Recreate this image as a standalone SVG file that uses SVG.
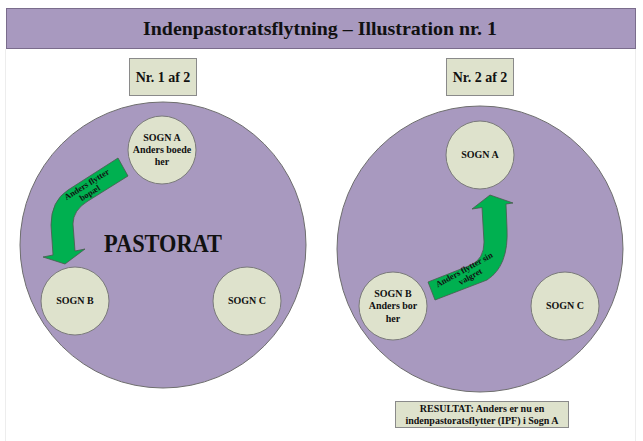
<svg xmlns="http://www.w3.org/2000/svg" width="643" height="441" viewBox="0 0 643 441">
<style>
  text { font-family: "Liberation Serif", "Times New Roman", serif; font-weight: bold; fill: #111; text-anchor: middle; }
  .big { fill: #A899BF; stroke: #6e6e6e; stroke-width: 1; }
  .sogn { fill: #DEE2CC; stroke: #7a7a7a; stroke-width: 1; }
  .box { fill: #DEE2CC; stroke: #8a8a8a; stroke-width: 1; }
  .arrow { fill: #00B050; stroke: #4a5a4e; stroke-width: 0.8; }
  .s10 { font-size: 10px; }
  .s8 { font-size: 8.5px; }
</style>
<rect x="0" y="0" width="643" height="441" fill="#ffffff"/>
<line x1="5.5" y1="49" x2="5.5" y2="441" stroke="#ededed" stroke-width="1"/>
<line x1="635.5" y1="49" x2="635.5" y2="441" stroke="#ededed" stroke-width="1"/>

<g id="title">
  <rect x="6.5" y="8.5" width="629" height="40" fill="#A899BF" stroke="#7a6c8c" stroke-width="1"/>
  <text x="320" y="35" style="font-size:19px" textLength="354" lengthAdjust="spacingAndGlyphs">Indenpastoratsflytning – Illustration nr. 1</text>
</g>

<g id="label1">
  <rect class="box" x="129.5" y="58.5" width="67" height="37"/>
  <text x="163" y="82" style="font-size:14px">Nr. 1 af 2</text>
</g>
<g id="label2">
  <rect class="box" x="446.5" y="58.5" width="67" height="37"/>
  <text x="480" y="82" style="font-size:14px">Nr. 2 af 2</text>
</g>

<g id="pastorat1">
  <circle class="big" cx="163" cy="245" r="143"/>
  <text x="163" y="252" style="font-size:25px" textLength="118" lengthAdjust="spacingAndGlyphs">PASTORAT</text>
</g>
<g id="pastorat2">
  <circle class="big" cx="480" cy="249" r="143"/>
</g>

<g id="sogn-a1">
  <circle class="sogn" cx="162" cy="150" r="34"/>
  <text class="s10" x="162" y="141">SOGN A</text>
  <text class="s10" x="162" y="153">Anders boede</text>
  <text class="s10" x="162" y="165">her</text>
</g>
<g id="sogn-b1">
  <circle class="sogn" cx="75" cy="301" r="34"/>
  <text class="s10" x="75" y="304">SOGN B</text>
</g>
<g id="sogn-c1">
  <circle class="sogn" cx="247" cy="301" r="34"/>
  <text class="s10" x="247" y="304">SOGN C</text>
</g>

<g id="sogn-a2">
  <circle class="sogn" cx="480" cy="155" r="34"/>
  <text class="s10" x="480" y="158">SOGN A</text>
</g>
<g id="sogn-b2">
  <circle class="sogn" cx="393" cy="306" r="34"/>
  <text class="s10" x="393" y="297">SOGN B</text>
  <text class="s10" x="393" y="309">Anders bor</text>
  <text class="s10" x="393" y="322">her</text>
</g>
<g id="sogn-c2">
  <circle class="sogn" cx="565" cy="306" r="34"/>
  <text class="s10" x="565" y="309">SOGN C</text>
</g>

<g id="result">
  <rect class="box" x="395.5" y="401.5" width="173" height="26"/>
  <text x="482" y="412" style="font-size:10px">RESULTAT: Anders er nu en</text>
  <text x="482" y="424" style="font-size:10px">indenpastoratsflytter (IPF) i Sogn A</text>
</g>

<g id="connectors">
  <g id="arrow1">
    <path class="arrow" d="M118,158 L128,176 L88,201 Q73,210 73,224 L75,251 L85,249 L65,264 L43,257 L53,255 L51,225 Q51,201 68,190 Z"/>
    <g transform="translate(89,188) rotate(-32)">
      <text class="s8" x="0" y="-1.5">Anders flytter</text>
      <text class="s8" x="-2" y="7.5">bopæl</text>
    </g>
  </g>
  <g id="arrow2">
    <path class="arrow" d="M428,282 L471,265 Q484,259 484,242 L482,207.5 L472,209 L490,195 L513,203 L506,204 L507,228 Q509,266 487,280 L435,300 Z"/>
    <g transform="translate(466,273) rotate(-29)">
      <text class="s8" x="0" y="-1">Anders flytter sin</text>
      <text class="s8" x="2" y="8">valgret</text>
    </g>
  </g>
</g>
</svg>
